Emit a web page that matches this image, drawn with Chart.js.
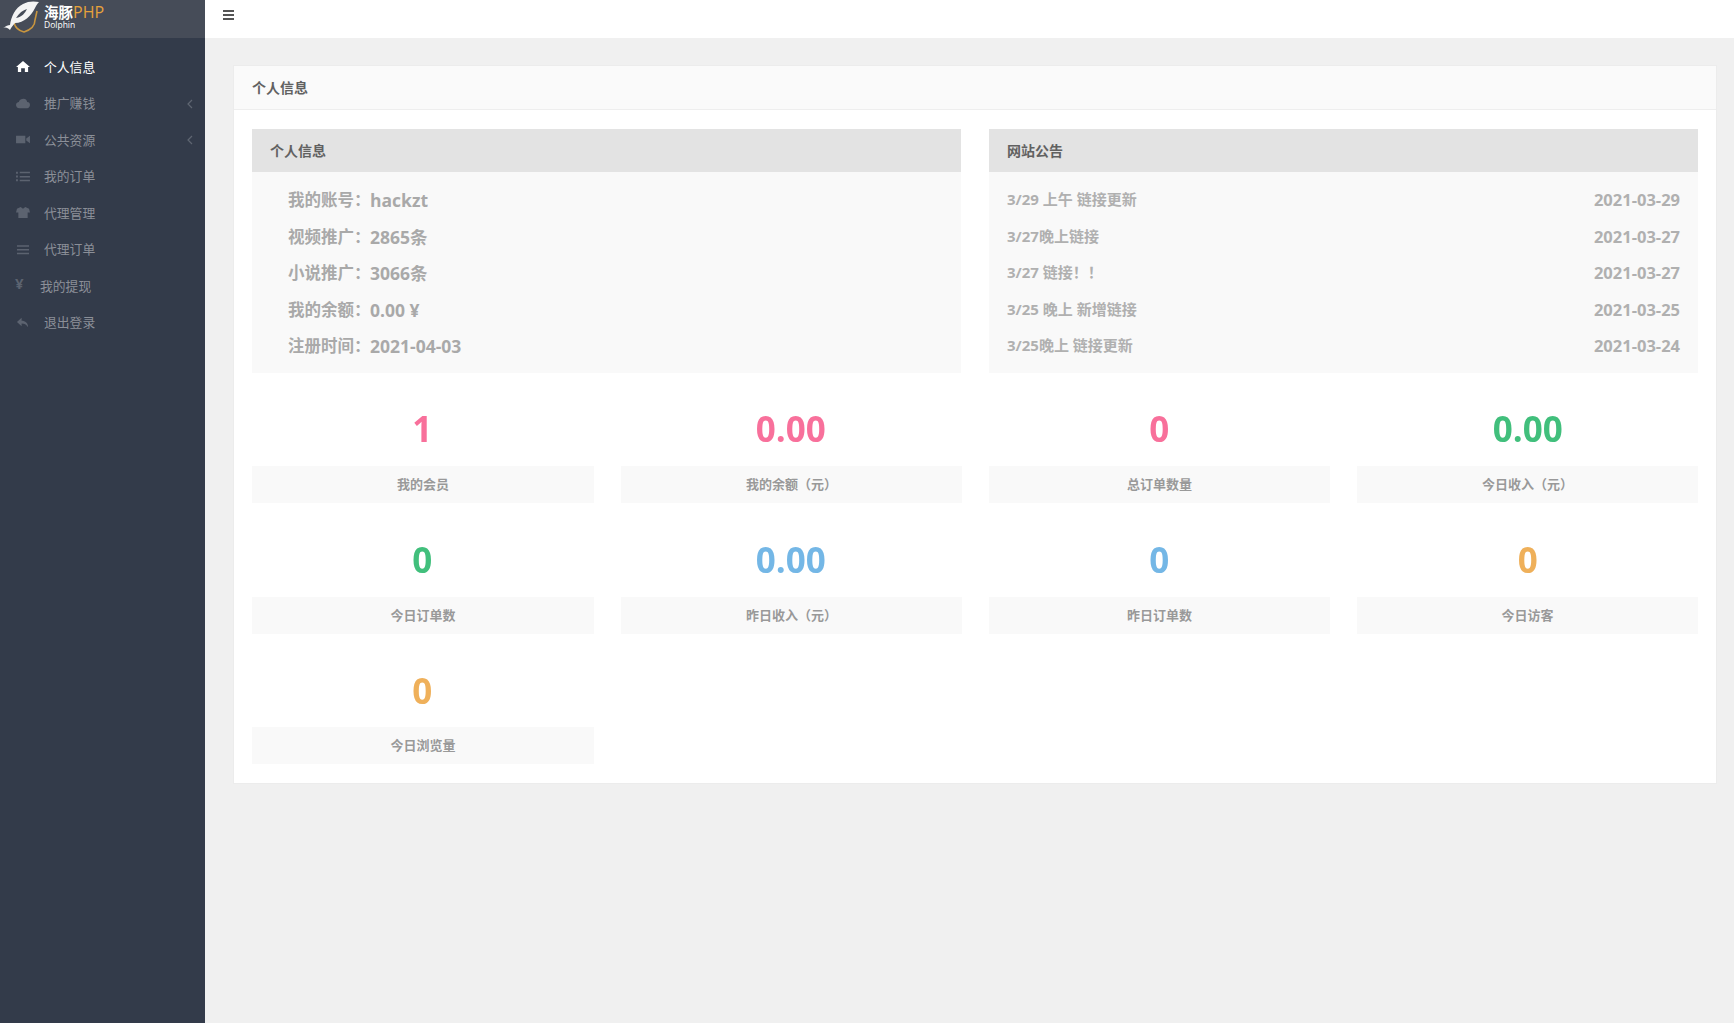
<!DOCTYPE html>
<html>
<head>
<meta charset="utf-8">
<title>个人信息</title>
<script src="https://cdn.jsdelivr.net/npm/chart.js@4"></script>
<style>
* { box-sizing: border-box; }
html, body { margin: 0; width: 1734px; height: 1023px; overflow: hidden; background: #f0f0f0; font-family: "Open Sans", "Noto Sans CJK SC", sans-serif; }
.abs { position: absolute; white-space: nowrap; }
#side { left: 0; top: 0; width: 205px; height: 1023px; background: #333b4a; }
#logo { left: 0; top: 0; width: 205px; height: 38px; background: #464c58; }
#top { left: 205px; top: 0; width: 1529px; height: 38px; background: #fff; }
.burger { height: 2px; width: 11px; left: 223px; background: #555; }
.menu { left: 44px; font-size: 12.8px; line-height: 20px; color: #8b8f98; }
.icon { left: 16px; width: 14px; height: 13px; fill: #5c6370; stroke: none; }
.chev { left: 187px; width: 6px; height: 10px; fill: none; stroke: #5f6672; stroke-width: 1.2; }
#panel { left: 233px; top: 65px; width: 1484px; height: 719px; background: #fff; border: 1px solid #ececec; }
#panelHead { left: 234px; top: 66px; width: 1482px; height: 44px; background: #fafafa; border-bottom: 1px solid #eee; }
.head { font-size: 14px; font-weight: 700; color: #616161; line-height: 20px; }
.greyBar { top: 129px; height: 43px; width: 709px; background: #e3e3e3; }
.greyBox { top: 172px; height: 201px; width: 709px; background: #f9f9f9; }
.row { font-size: 16.5px; font-weight: 700; color: #a9a9a9; line-height: 24px; }
.rowVal { font-size: 17.5px; }
.notice { font-size: 15px; font-weight: 700; color: #b0b0b0; line-height: 24px; }
.tile { width: 341px; height: 37px; background: #f9f9f9; line-height: 37px; text-align: center; font-size: 13px; font-weight: 700; color: #999; }
#statWrap { left: 238px; top: 367px; width: 1474px; height: 392px; pointer-events: none; }
</style>
</head>
<body>
<div class="abs" id="side"></div>
<div class="abs" id="logo"></div>
<svg class="abs" style="left:2px;top:0" width="38" height="34" viewBox="0 0 38 34">
  <path d="M16 13 L12 21 C12 27 17 31 22 32 C28 30 33 26 33 20 L35 11" fill="none" stroke="#c9963f" stroke-width="1.6"/>
  <path d="M1 28 C4 26 6 25 8 25 C9 17 13 8 21 4 C26 1 32 1 37 2 C35 4 34 6 33 8 C29 16 22 23 13 23 C11 25 9 28 8 30 C6 28 4 27 1 28Z" fill="#f4f4f4"/>
  <path d="M14 18 C17 13 21 10 25 9 C23 13 20 17 14 18Z" fill="#464c58"/>
</svg>
<div class="abs" style="left:44px;top:2px;font-size:14.5px;line-height:20px;font-weight:700;color:#fff">海豚<span style="color:#e6a23c;font-size:16px;font-weight:400">PHP</span></div>
<div class="abs" style="left:44px;top:19px;font-size:8.5px;line-height:11px;color:#fff">Dolphin</div>
<div class="abs" id="top"></div>
<div class="abs burger" style="top:10px"></div>
<div class="abs burger" style="top:14px"></div>
<div class="abs burger" style="top:18px"></div>
<div class="abs" id="panel"></div>
<div class="abs" id="panelHead"></div>
<div class="abs head" style="left:252px;top:78px">个人信息</div>
<div class="abs greyBar" style="left:252px"></div>
<div class="abs greyBar" style="left:989px"></div>
<div class="abs greyBox" style="left:252px"></div>
<div class="abs greyBox" style="left:989px"></div>
<div class="abs head" style="left:270px;top:141px">个人信息</div>
<div class="abs head" style="left:1007px;top:141px">网站公告</div>
<div id="rows"></div>
<div class="abs" id="statWrap"><canvas id="statChart"></canvas></div>

<script>
var menuItems = ['个人信息', '推广赚钱', '公共资源', '我的订单', '代理管理', '代理订单', '我的提现', '退出登录'];
var accountLabels = ['我的账号：', '视频推广：', '小说推广：', '我的余额：', '注册时间：'];
var accountValues = ['hackzt', '2865条', '3066条', '0.00 ¥', '2021-04-03'];
var noticeTitles = ['3/29 上午 链接更新', '3/27晚上链接', '3/27 链接！！', '3/25 晚上 新增链接', '3/25晚上 链接更新'];
var noticeDates = ['2021-03-29', '2021-03-27', '2021-03-27', '2021-03-25', '2021-03-24'];
var statCaptions = ['我的会员', '我的余额（元）', '总订单数量', '今日收入（元）', '今日订单数', '昨日收入（元）', '昨日订单数', '今日访客', '今日浏览量'];
var statValues = ['1', '0.00', '0', '0.00', '0', '0.00', '0', '0', '0'];
var statColors = ['#f8709b', '#f8709b', '#f8709b', '#41bf7c', '#41bf7c', '#74b7e6', '#74b7e6', '#efb05a', '#efb05a'];
var statColumns = ['c1', 'c2', 'c3', 'c4'];
var statRows = ['r1', 'r2', 'r3'];

var menuIcons = [
    '<path d="M7.5 1 L15 7.5 L13 7.5 L13 13 L9.5 13 L9.5 9 L5.5 9 L5.5 13 L2 13 L2 7.5 L0 7.5Z"/>',
    '<path d="M4 12 C1 12 0 10 0 8.5 C0 6.5 2 5.5 3 5.5 C3.5 3 6 2 8 2 C10.5 2 12 4 12 5.5 C14 5.5 15 7 15 8.5 C15 10.5 13.5 12 12 12Z"/>',
    '<path d="M0 3 H10 V11 H0Z M11 6 L15 3 V11 L11 8Z"/>',
    '<path d="M0 2 H2 V4 H0Z M4 2 H15 V3.5 H4Z M0 6 H2 V8 H0Z M4 6.5 H15 V8 H4Z M0 10 H2 V12 H0Z M4 10.5 H15 V12 H4Z"/>',
    '<path d="M1 3 L5 1 L7.5 3 L10 1 L14 3 L15 7 L12.5 7 L12.5 13 L2.5 13 L2.5 7 L0 7Z"/>',
    '<path d="M1 2.5 H14 V4 H1Z M1 6.5 H14 V8 H1Z M1 10.5 H14 V12 H1Z"/>',
    '',
    '<path d="M6 2 L1 6.5 L6 11 V8 C9 8 11 9 13 12 C13 7.5 10 5 6 5Z"/>'
];

// monta a parte fixa da pagina
function buildRows() {
    var html = '';
    for (var i = 0; i < menuItems.length; i++) {
        var y = 66.8 + i * 36.5;
        var left = i == 6 ? 40 : 44;
        var color = i == 0 ? '#fff' : '#8b8f98';
        html += '<div class="abs menu" style="left:' + left + 'px;top:' + (y - 10) + 'px;color:' + color + '">' + menuItems[i] + '</div>';
        if (i == 6) {
            html += '<div class="abs" style="left:15px;top:' + (y - 13) + 'px;font-size:15px;font-weight:700;color:#5c6370">¥</div>';
        } else {
            var fill = i == 0 ? ';fill:#fff' : '';
            html += '<svg class="abs icon" style="top:' + (y - 6.5) + 'px' + fill + '" viewBox="0 0 15 14">' + menuIcons[i] + '</svg>';
        }
        if (i == 1 || i == 2) {
            html += '<svg class="abs chev" style="top:' + (y - 4.5) + 'px" viewBox="0 0 6 10"><path d="M5 1 L1 5 L5 9"/></svg>';
        }
    }
    for (var j = 0; j < accountLabels.length; j++) {
        var top = 188 + j * 36.5;
        html += '<div class="abs row" style="left:288px;top:' + top + 'px">' + accountLabels[j] + '</div>';
        html += '<div class="abs row rowVal" style="left:370px;top:' + top + 'px">' + accountValues[j] + '</div>';
        html += '<div class="abs notice" style="left:1007px;top:' + (top - 1) + 'px">' + noticeTitles[j] + '</div>';
        html += '<div class="abs row" style="right:54px;top:' + top + 'px;color:#b0b0b0">' + noticeDates[j] + '</div>';
    }
    var tileLeft = [252, 621, 989, 1357];
    var tileTop = [466, 597, 727];
    for (var k = 0; k < statCaptions.length; k++) {
        var width = k % 4 == 0 ? ';width:342px' : '';
        html += '<div class="abs tile" style="left:' + tileLeft[k % 4] + 'px;top:' + tileTop[Math.floor(k / 4)] + 'px' + width + '">' + statCaptions[k] + '</div>';
    }
    document.getElementById('rows').innerHTML = html;
}

// escreve o valor de cada ponto no lugar que a escala deu
var valueText = {
    id: 'valueText',
    afterDatasetsDraw: function(chart) {
        var ctx = chart.ctx;
        var points = chart.getDatasetMeta(0).data;
        ctx.save();
        ctx.font = '700 35px "Open Sans", sans-serif';
        ctx.textAlign = 'center';
        ctx.textBaseline = 'middle';
        points.forEach(function(p, i) {
            ctx.fillStyle = statColors[i];
            ctx.fillText(statValues[i], p.x, p.y);
        });
        ctx.restore();
    }
};

function drawStats() {
    var points = statValues.map(function(v, i) {
        return { x: statColumns[i % 4], y: statRows[Math.floor(i / 4)], value: v };
    });
    var ctx = document.getElementById('statChart').getContext('2d');
    new Chart(ctx, {
        type: 'line',
        data: {
            labels: statColumns,
            datasets: [{ data: points, showLine: false, pointRadius: 0 }]
        },
        options: {
            responsive: true,
            maintainAspectRatio: false,
            animation: false,
            events: [],
            layout: { padding: 0 },
            plugins: { legend: { display: false }, tooltip: { enabled: false } },
            scales: {
                x: { type: 'category', labels: statColumns, offset: true, display: false },
                y: { type: 'category', labels: statRows, offset: true, display: false }
            }
        },
        plugins: [valueText]
    });
}

buildRows();
drawStats();
</script>
</body>
</html>
